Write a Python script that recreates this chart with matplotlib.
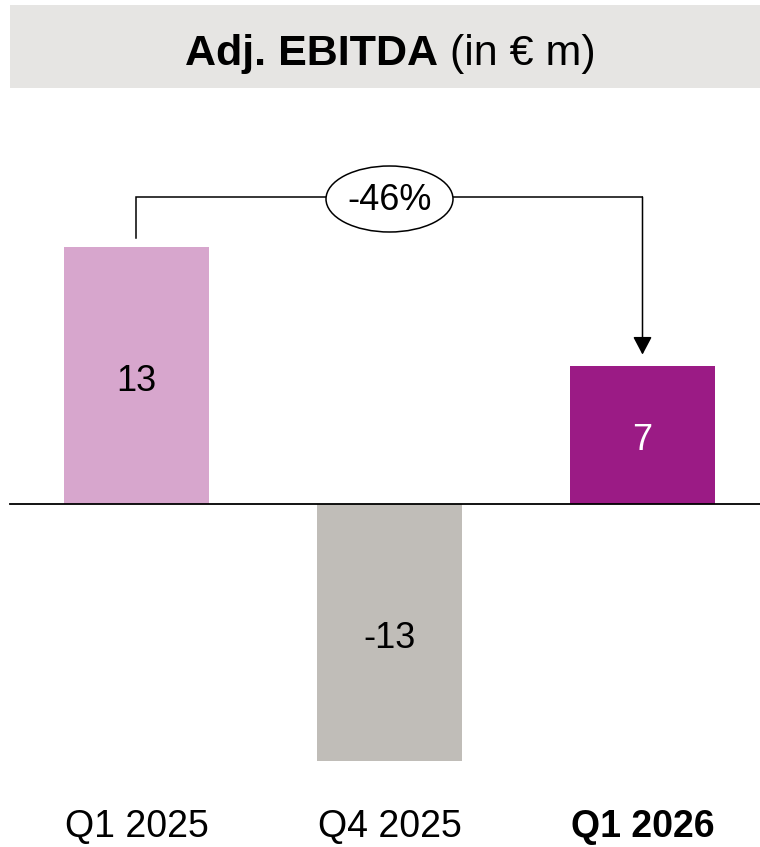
import matplotlib
matplotlib.use("Agg")
import matplotlib.pyplot as plt
from matplotlib.patches import Rectangle, Ellipse
import matplotlib.transforms as mtransforms

plt.rcParams['font.family'] = ['Liberation Sans', 'DejaVu Sans']

categories = ["Q1 2025", "Q4 2025", "Q1 2026"]
values = [13, -13, 7]
bar_colors = ["#D7A6CD", "#C0BDB8", "#9B1B85"]
label_colors = ["black", "black", "white"]
change_label = "-46%"
title_bold = "Adj. EBITDA"
title_rest = " (in € m)"

W, H = 760, 847
fig = plt.figure(figsize=(W / 100, H / 100), dpi=100)
ax = fig.add_axes([0, 0, 1, 1])
ax.set_axis_off()

# scale: pixels per unit and axes limits
k = 257 / 13.0
base_px = 504
ax.set_ylim(-(H - base_px) / k, base_px / k)
step = 253.0
x0 = 136.5
ax.set_xlim(-x0 / step, (W - x0) / step)

xs = list(range(len(categories)))
ax.bar(xs, values, width=145 / step, color=bar_colors, zorder=2)

for x, v, c in zip(xs, values, label_colors):
    ax.text(x, v / 2 - 6 / k, str(v), ha="center", va="center", fontsize=26, color=c, zorder=3)

# baseline
ax.axhline(0, xmin=10 / W, xmax=1, color="black", lw=1.3, zorder=4)

# category labels
trans = mtransforms.blended_transform_factory(ax.transData, fig.transFigure)
for i, (x, cat) in enumerate(zip(xs, categories)):
    ax.text(x, (H - 837) / H, cat, ha="center", va="baseline", fontsize=27,
            fontweight="bold" if i == len(categories) - 1 else "normal",
            transform=trans)

# bracket with change
top = (base_px - 197) / k
left_bottom = values[0] + 9 / k
tip = values[2] + 11 / k
lw = 1.1
ax.plot([xs[0], xs[0], xs[2]], [left_bottom, top, top], color="black", lw=lw,
        solid_joinstyle="miter", zorder=3)
ax.annotate("", xy=(xs[2], tip), xytext=(xs[2], top),
            arrowprops=dict(arrowstyle="-|>,head_length=1.1,head_width=0.58",
                            color="black", lw=lw, shrinkA=0, shrinkB=0,
                            mutation_scale=10), zorder=3)
ell = Ellipse((xs[1], top - 2 / k), width=127 / step, height=66 / k,
              facecolor="white", edgecolor="black", lw=lw, zorder=4)
ax.add_patch(ell)
ax.text(xs[1], top - 3 / k, change_label, ha="center", va="center", fontsize=26, zorder=5)

# title box
fig.patches.append(Rectangle((10 / W, (H - 88) / H), (W - 10) / W, 83 / H,
                             transform=fig.transFigure, facecolor="#E6E5E3",
                             edgecolor="none", zorder=0))
r = fig.canvas.get_renderer()
tb = fig.text(0, 0, title_bold, fontsize=31, fontweight="bold")
tr = fig.text(0, 0, title_rest, fontsize=31)
wb = tb.get_window_extent(r).width
wr = tr.get_window_extent(r).width
cx = 390
start = cx - (wb + wr) / 2
ty = (H - 50) / H
tb.set_position((start / W, ty)); tb.set_va("center_baseline")
tr.set_position(((start + wb) / W, ty)); tr.set_va("center_baseline")

fig.savefig("out.png", dpi=100)
